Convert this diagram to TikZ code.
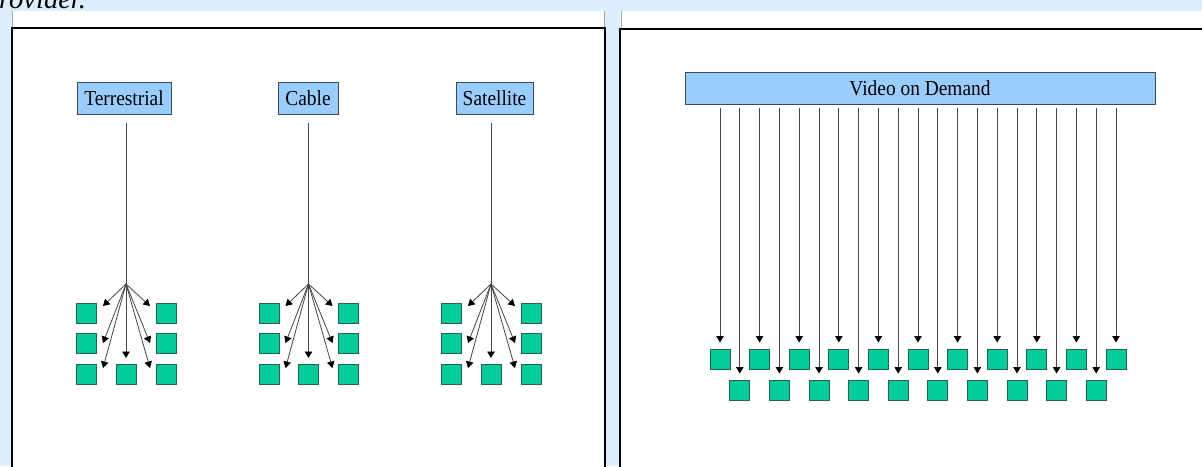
\documentclass[tikz,border=0pt]{standalone}
\usepackage{fontspec}
\setmainfont{Liberation Serif}
\usetikzlibrary{arrows.meta,calc}
\definecolor{bgblue}{HTML}{DDEEFF}
\definecolor{boxblue}{HTML}{99CCFF}
\definecolor{boxline}{HTML}{3C4B5C}
\definecolor{sqfill}{HTML}{00CC99}
\definecolor{sqline}{HTML}{2D6050}
\definecolor{conn}{HTML}{454545}
\begin{document}
\begin{tikzpicture}[x=1pt,y=-1pt,
  labelbox/.style={draw=boxline,fill=boxblue,line width=0.9pt,inner sep=0pt,minimum height=32pt,font=\fontsize{19.4}{20}\selectfont},
  sq/.style={draw=sqline,fill=sqfill,line width=1pt,minimum size=20pt,inner sep=0pt},
  arr/.style={draw=conn,line width=0.8pt,-{Triangle[width=7.5pt,length=6.5pt,color=black]}},
  feed/.style={draw=conn,line width=0.8pt},
  frame/.style={draw=black,line width=2pt},
  cell/.style={draw=gray!70,line width=0.8pt}]
\useasboundingbox (0,0) rectangle (1202,466);
\clip (0,0) rectangle (1202,466);
% background
\fill[bgblue] (0,0) rectangle (1202,466);
\fill[white] (12,11) rectangle (605,467);
\fill[white] (620,11) rectangle (1203,467);
\draw[cell] (12.5,11) -- (12.5,28);
\draw[cell] (604.5,11) -- (604.5,28);
\draw[cell] (621,11) -- (621,28);
\draw[frame] (12,468) -- (12,28) -- (605,28) -- (605,468);
\draw[frame] (620,468) -- (620,28.5) -- (1204,28.5);
\node[anchor=base west,inner sep=0pt,font=\fontsize{28.5}{30}\selectfont\itshape] (prov) at (-1,8.5) {rovider.};
% left panel
\node[labelbox,minimum width=94pt] (T) at (124,98) {\scalebox{1}[1.1]{Terrestrial}};
\node[labelbox,minimum width=60pt] (C) at (308,98) {\scalebox{1}[1.1]{Cable}};
\node[labelbox,minimum width=77pt] (S) at (494.5,98) {\scalebox{1}[1.1]{Satellite}};
\foreach \g/\hx in {T/126, C/308.5, S/491} {
  \coordinate (\g-top) at (\hx,123);
  \coordinate (\g-hub) at (\hx,284);
  \draw[feed] (\g-top) -- (\g-hub);
  \node[sq] (\g-l1) at ({\hx-39.5},313) {};
  \node[sq] (\g-l2) at ({\hx-39.5},343) {};
  \node[sq] (\g-l3) at ({\hx-39.5},374.5) {};
  \node[sq] (\g-m3) at (\hx,374.5) {};
  \node[sq] (\g-r1) at ({\hx+40},313) {};
  \node[sq] (\g-r2) at ({\hx+40},343) {};
  \node[sq] (\g-r3) at ({\hx+40},374.5) {};
  \coordinate (\g-al1) at ({\hx-23},306);
  \coordinate (\g-al2) at ({\hx-23},343);
  \coordinate (\g-al3) at ({\hx-23},368);
  \coordinate (\g-am3) at (\hx,358);
  \coordinate (\g-ar1) at ({\hx+24},306);
  \coordinate (\g-ar2) at ({\hx+24},343);
  \coordinate (\g-ar3) at ({\hx+24},368);
  \foreach \a in {al1,al2,al3,am3,ar1,ar2,ar3}
    \draw[arr] (\g-hub) -- (\g-\a);
}
% right panel
\node[labelbox,minimum width=470pt] (V) at (920,88) {\scalebox{1}[1.1]{Video on Demand}};
\foreach \k in {0,...,10} {
  \node[sq] (top\k) at ({720+39.6*\k},359) {};
  \draw[arr] ($(V.south -| top\k)+(0,4)$) -- ($(top\k.north)+(0,-6)$);
}
\foreach \k in {0,...,9} {
  \node[sq] (bot\k) at ({739.8+39.6*\k},390) {};
  \draw[arr] ($(V.south -| bot\k)+(0,4)$) -- ($(bot\k.north)+(0,-6)$);
}
\end{tikzpicture}
\end{document}
